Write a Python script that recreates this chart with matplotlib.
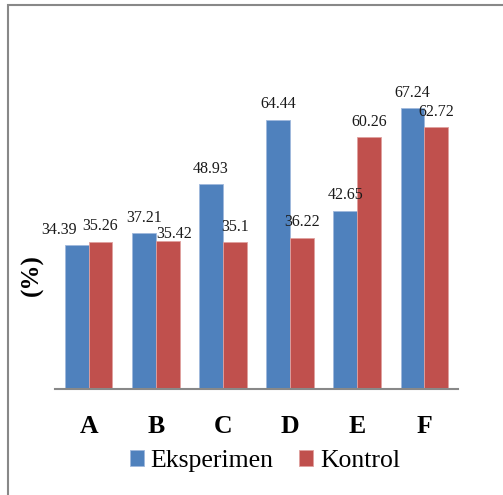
import matplotlib.pyplot as plt
from matplotlib.patches import Rectangle
import numpy as np

plt.rcParams['font.family'] = ['Liberation Serif', 'DejaVu Serif']

groups = ['A', 'B', 'C', 'D', 'E', 'F']
eksperimen = [34.39, 37.21, 48.93, 64.44, 42.65, 67.24]
kontrol = [35.26, 35.42, 35.1, 36.22, 60.26, 62.72]

blue = '#4F81BD'
red = '#C0504D'

W, H = 503, 495
fig = plt.figure(figsize=(W / 100, H / 100), dpi=100)

# plot area in pixels: x 55..458, y 55..389 (from top)
ax = fig.add_axes([55 / W, 1 - 389 / H, (458 - 55) / W, (389 - 54.6) / H])

x = np.arange(len(groups))
w = 0.355
b1 = ax.bar(x - w / 2, eksperimen, w, color=blue, edgecolor='#9FB8DC', linewidth=0.6,
            label='Eksperimen')
b2 = ax.bar(x + w / 2, kontrol, w, color=red, edgecolor='#E0A09E', linewidth=0.6,
            label='Kontrol')

ax.set_xlim(-0.5, len(groups) - 0.5)
ax.set_ylim(0, 80)

# label nudges (points) where the labels were moved apart in the original
nudge_e = {0: (-13, 0)}
nudge_k = {1: (5, -6)}

for i, v in enumerate(eksperimen):
    dx, dy = nudge_e.get(i, (0, 0))
    ax.annotate(str(v), (x[i] - w / 2, v), xytext=(dx, 11 + dy), textcoords='offset points',
                ha='center', va='center', fontsize=11.5, color='#1a1a1a')
for i, v in enumerate(kontrol):
    dx, dy = nudge_k.get(i, (0, 0))
    ax.annotate(str(v), (x[i] + w / 2, v), xytext=(dx, 11 + dy), textcoords='offset points',
                ha='center', va='center', fontsize=11.5, color='#1a1a1a')

for s in ['top', 'right', 'left']:
    ax.spines[s].set_visible(False)
ax.spines['bottom'].set_color('#888888')
ax.spines['bottom'].set_linewidth(1.5)
ax.set_yticks([])
ax.set_xticks(x)
ax.set_xticklabels(groups, fontsize=18.5, fontweight='bold')
ax.tick_params(axis='x', length=0, pad=19)

fig.text(32 / W, 1 - 275 / H, '(%)', rotation=90, fontsize=18, fontweight='bold',
         ha='center', va='center')

leg = fig.legend(handles=[b1, b2], loc='center', bbox_to_anchor=(265 / W, 1 - 461 / H),
                 ncol=2, frameon=False, fontsize=18.5, handlelength=0.55, handleheight=0.55,
                 handletextpad=0.25, columnspacing=1.0, borderpad=0)

# chart border
fig.patches.append(Rectangle((8 / W, -0.1), 1.2, 1 - 5 / H + 0.1, transform=fig.transFigure,
                             fill=False, edgecolor='#888888', linewidth=1.5))

fig.savefig('out.png', dpi=100)
